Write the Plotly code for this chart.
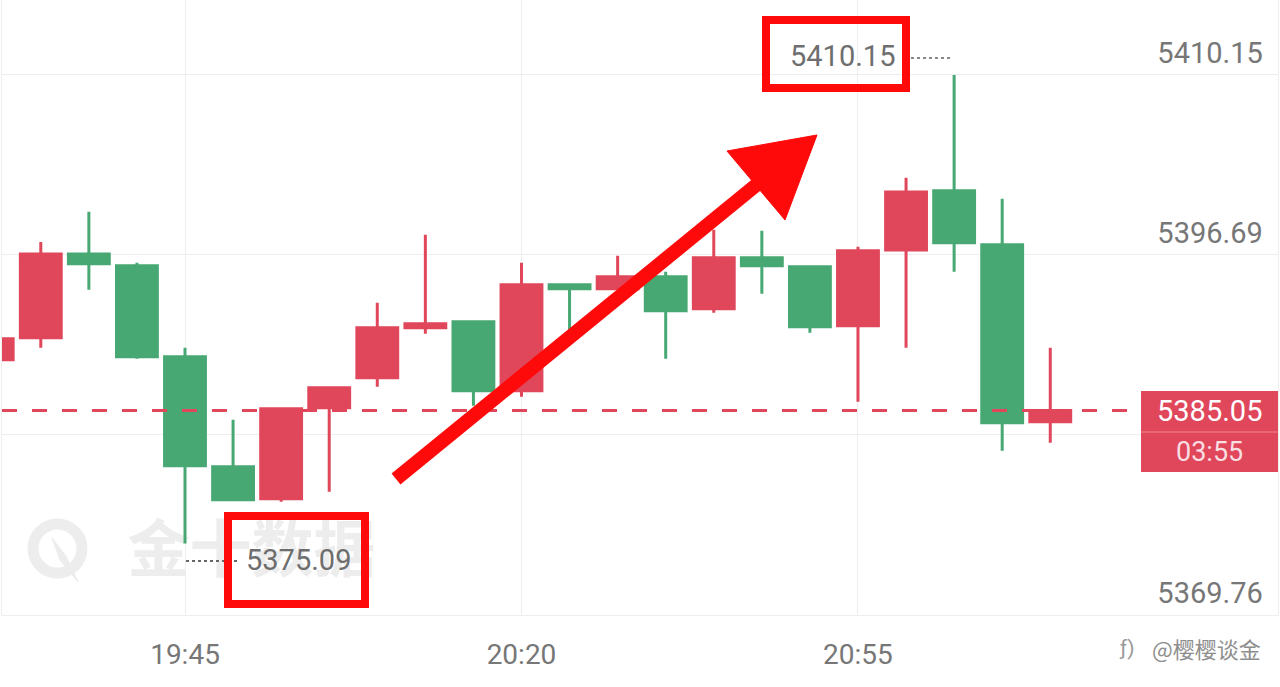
import pandas as pd
import plotly.graph_objects as go

# ---------------- data ----------------
DAY = "2024-06-07 "
times = ["19:25", "19:30", "19:35", "19:40", "19:45", "19:50", "19:55", "20:00",
         "20:05", "20:10", "20:15", "20:20", "20:25", "20:30", "20:35", "20:40",
         "20:45", "20:50", "20:55", "21:00", "21:05", "21:10", "21:15"]
opens = [5388.84, 5390.48, 5396.76, 5395.87, 5389.06, 5380.84, 5378.44, 5385.25,
         5387.49, 5391.23, 5391.68, 5386.52, 5394.45, 5394.15, 5395.05, 5392.65,
         5396.47, 5395.79, 5391.38, 5397.06, 5401.48, 5397.44, 5384.20]
highs = [5390.56, 5397.66, 5399.91, 5396.09, 5389.74, 5384.35, 5385.20, 5386.82,
         5393.10, 5398.19, 5391.75, 5396.09, 5394.52, 5396.62, 5395.42, 5398.56,
         5398.49, 5395.86, 5397.29, 5402.45, 5410.15, 5400.88, 5389.74]
lows = [5388.76, 5389.74, 5394.07, 5388.91, 5375.09, 5378.29, 5378.22, 5378.97,
        5386.82, 5390.78, 5385.40, 5386.07, 5390.93, 5394.10, 5388.91, 5392.35,
        5393.77, 5390.86, 5385.70, 5389.74, 5395.42, 5382.03, 5382.63]
closes = [5390.41, 5396.76, 5396.02, 5389.06, 5380.91, 5378.37, 5385.17, 5386.74,
          5391.23, 5391.53, 5386.52, 5394.45, 5394.15, 5395.05, 5392.50, 5396.47,
          5395.87, 5391.31, 5396.99, 5401.40, 5397.59, 5384.13, 5385.05]

y_ticks = [5369.76, 5383.22, 5396.69, 5410.15]
y_tick_text = ["5369.76", "", "5396.69", "5410.15"]
x_ticks = ["19:45", "20:20", "20:55"]

last_price = 5385.05
countdown = "03:55"
high_label = "5410.15"
low_label = "5375.09"
watermark = "金十数据"
author = "@樱樱谈金"

# ---------------- styling / geometry ----------------
RED = "#E0475B"
GREEN = "#48A873"
MARK = "#FF0A0A"
GREY_TXT = "#777777"
GRID = "#EEEEEE"
FONT = "Roboto"

W, H = 1280, 687
PL, PR, PT, PB = 2, 1278, 0, 615          # plot area in pixels
PX_PER_MIN = 9.614
X_REF_PX = 185                             # pixel of 19:45

def px(x):
    return (x - PL) / (PR - PL)

def py(y):
    return (PB - y) / (PB - PT)

ref_t = pd.Timestamp(DAY + "19:45")
x0 = ref_t - pd.Timedelta(minutes=(X_REF_PX - PL) / PX_PER_MIN)
x1 = ref_t + pd.Timedelta(minutes=(PR - X_REF_PX) / PX_PER_MIN)

per_px = (y_ticks[3] - y_ticks[0]) / (615 - 75)
y_lo = y_ticks[0] - 0.02
y_hi = y_ticks[3] + 75 * per_px

xs = [DAY + t for t in times]

fig = go.Figure()
fig.add_trace(go.Candlestick(
    x=xs, open=opens, high=highs, low=lows, close=closes,
    increasing=dict(line=dict(color=RED, width=3), fillcolor=RED),
    decreasing=dict(line=dict(color=GREEN, width=3), fillcolor=GREEN),
    whiskerwidth=0, showlegend=False, hoverinfo="skip",
))

shapes = []
annotations = []

def note(x, y, text, size, color, family=FONT):
    annotations.append(dict(xref="paper", yref="paper", x=px(x), y=py(y),
                            xanchor="center", yanchor="middle",
                            text=text, showarrow=False,
                            font=dict(family=family, size=size, color=color)))

# watermark (below traces)
shapes.append(dict(type="circle", xref="paper", yref="paper", layer="below",
                   x0=px(33), x1=px(82), y0=py(573), y1=py(524),
                   line=dict(color="#EDEDED", width=11)))
logo_tail = [(52, 538), (60, 560), (78, 582), (66, 556)]
shapes.append(dict(type="path", xref="paper", yref="paper", layer="below",
                   path="M " + " L ".join(f"{px(a):.5f},{py(b):.5f}" for a, b in logo_tail) + " Z",
                   fillcolor="#EDEDED", line=dict(color="#EDEDED", width=1)))
shapes.append(dict(type="rect", xref="paper", yref="paper", layer="below",
                   x0=px(115), x1=px(388), y0=py(590), y1=py(520),
                   line=dict(width=0), fillcolor="rgba(0,0,0,0)",
                   label=dict(text="<b>" + watermark + "</b>",
                              font=dict(family="Noto Sans CJK SC", size=62, color="#EDEDED"),
                              textposition="middle center")))

# last price dashed line
shapes.append(dict(type="line", xref="paper", yref="y", x0=0, x1=px(1141),
                   y0=last_price, y1=last_price,
                   line=dict(color=RED, width=3, dash="15px,15px")))

# last price box
shapes.append(dict(type="rect", xref="paper", yref="paper",
                   x0=px(1141), x1=px(1278), y0=py(472), y1=py(391),
                   fillcolor=RED, line=dict(width=0)))
shapes.append(dict(type="line", xref="paper", yref="paper",
                   x0=px(1141), x1=px(1278), y0=py(432), y1=py(432),
                   line=dict(color="#EE8794", width=1)))
note(1209, 411, f"{last_price:.2f}", 29, "white")
note(1209, 452, countdown, 27, "#F8DDE1")

# high label
shapes.append(dict(type="line", xref="paper", yref="paper",
                   x0=px(911), x1=px(950), y0=py(58), y1=py(58),
                   line=dict(color="#888888", width=2, dash="dot")))
shapes.append(dict(type="rect", xref="paper", yref="paper",
                   x0=px(766), x1=px(906), y0=py(88), y1=py(20),
                   line=dict(color=MARK, width=8)))
note(842, 56, high_label, 29, "#6E6E6E")

# low label
shapes.append(dict(type="line", xref="paper", yref="paper",
                   x0=px(186), x1=px(240), y0=py(561), y1=py(561),
                   line=dict(color="#666666", width=2, dash="dot")))
shapes.append(dict(type="rect", xref="paper", yref="paper",
                   x0=px(228), x1=px(365), y0=py(604), y1=py(516),
                   line=dict(color=MARK, width=8)))
note(298, 560, low_label, 29, "#6E6E6E")

# red arrow
shapes.append(dict(type="line", xref="paper", yref="paper",
                   x0=px(396), y0=py(479), x1=px(760), y1=py(182),
                   line=dict(color=MARK, width=14)))
tri = [(727, 151), (817, 135), (785, 220)]
path = "M " + " L ".join(f"{px(a):.5f},{py(b):.5f}" for a, b in tri) + " Z"
shapes.append(dict(type="path", xref="paper", yref="paper", path=path,
                   fillcolor=MARK, line=dict(color=MARK, width=1)))

# author watermark bottom-right
note(1206, 648, author, 22, "#8E8E8E", "Noto Sans CJK SC")
note(1126, 648, "ƒ)", 21, "#9A9A9A")

fig.update_layout(
    width=W, height=H,
    margin=dict(l=PL, r=W - PR, t=PT, b=H - PB, pad=0),
    paper_bgcolor="white", plot_bgcolor="white",
    boxgap=0.15, boxgroupgap=0,
    shapes=shapes, annotations=annotations,
    hovermode=False, showlegend=False,
    xaxis=dict(
        range=[x0, x1], rangeslider=dict(visible=False),
        tickvals=[DAY + t for t in x_ticks], ticktext=x_ticks,
        showgrid=True, gridcolor=GRID, gridwidth=1,
        showline=True, linecolor=GRID, linewidth=1, mirror=True,
        zeroline=False, ticks="", ticklabelstandoff=14,
        tickfont=dict(family=FONT, size=28, color=GREY_TXT),
    ),
    yaxis=dict(
        range=[y_lo, y_hi], side="right",
        tickvals=y_ticks, ticktext=y_tick_text,
        ticklabelposition="inside", ticklabelshift=-22, ticklabelstandoff=18,
        showgrid=True, gridcolor=GRID, gridwidth=1,
        showline=True, linecolor=GRID, linewidth=1, mirror=True,
        zeroline=False, ticks="",
        tickfont=dict(family=FONT, size=29, color=GREY_TXT),
    ),
)

fig.write_html("out.html", config={"displayModeBar": False},
               post_script="document.body.style.margin='0';document.body.style.overflow='hidden';")
